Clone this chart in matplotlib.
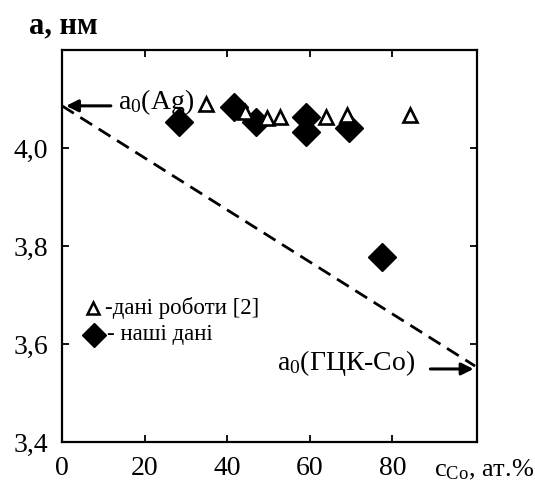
import matplotlib
matplotlib.use("Agg")
import matplotlib.pyplot as plt

# data
lit_x = [34.9, 44.3, 49.6, 52.7, 64.0, 69.0, 84.3]
lit_y = [4.090, 4.074, 4.061, 4.064, 4.064, 4.067, 4.067]
our_x = [28.4, 41.7, 46.9, 59.0, 59.0, 69.4, 77.4]
our_y = [4.054, 4.084, 4.054, 4.064, 4.033, 4.041, 3.778]
vegard_x = [0, 100]
vegard_y = [4.086, 3.555]
xticks = [0, 20, 40, 60, 80]
xticklabels = ["0", "20", "40", "60", "80"]
yticks = [3.4, 3.6, 3.8, 4.0]
yticklabels = ["3,4", "3,6", "3,8", "4,0"]
a_ag = 4.086
a_co = 3.549

plt.rcParams['font.family'] = ['Liberation Serif', 'DejaVu Serif']
plt.rcParams['mathtext.fontset'] = 'custom'
plt.rcParams['mathtext.rm'] = 'Liberation Serif'
plt.rcParams['mathtext.it'] = 'Liberation Serif:italic'
plt.rcParams['mathtext.bf'] = 'Liberation Serif:bold'

fig = plt.figure(figsize=(5.35, 4.94), dpi=100)
ax = fig.add_axes([0.1159, 0.1053, 0.776, 0.7935])
ax.set_xlim(0, 100.5)
ax.set_ylim(3.4, 4.2)

ax.plot(vegard_x, vegard_y, color='black', lw=2.0, ls=(0, (5.0, 2.8)))
ax.plot(our_x, our_y, ls='none', marker='D', ms=14, mfc='black', mec='black')
ax.plot(lit_x, lit_y, ls='none', marker='^', ms=10.5, mfc='white', mec='black', mew=1.9)

for s in ax.spines.values():
    s.set_linewidth(1.6)
ax.set_xticks(xticks)
ax.set_xticklabels(xticklabels)
ax.set_yticks(yticks)
ax.set_yticklabels(yticklabels)
ax.tick_params(direction='in', length=5, width=1.3, top=True, right=True,
               labelsize=20, pad=10)

# arrows
ax.annotate('', xy=(0.3, a_ag), xytext=(12.5, a_ag),
            arrowprops=dict(arrowstyle='-|>', color='black', lw=2.2, mutation_scale=18))
ax.text(13.5, a_ag + 0.008, r'a$_{\mathregular{0}}$(Ag)', fontsize=20, va='center', ha='left')
ax.annotate('', xy=(100.3, a_co), xytext=(88.5, a_co),
            arrowprops=dict(arrowstyle='-|>', color='black', lw=2.2, mutation_scale=18))
ax.text(85.5, a_co + 0.012, r'a$_{\mathregular{0}}$(ГЦК-Co)', fontsize=20, va='center', ha='right')

# legend
ax.plot([7.5], [3.673], ls='none', marker='^', ms=9, mfc='white', mec='black', mew=1.8)
ax.text(10.3, 3.673, '-дані роботи [2]', fontsize=16.5, va='center', ha='left')
ax.plot([7.8], [3.618], ls='none', marker='D', ms=12, mfc='black', mec='black')
ax.text(11.0, 3.620, '- наші дані', fontsize=16.5, va='center', ha='left')

fig.text(0.055, 0.948, 'a, нм', fontsize=22, fontweight='bold', ha='left', va='center')
fig.text(0.812, 0.048, r'c$_{\mathregular{Co}}$, ат.%', fontsize=19, ha='left', va='center')

fig.savefig('out.png', dpi=100)
